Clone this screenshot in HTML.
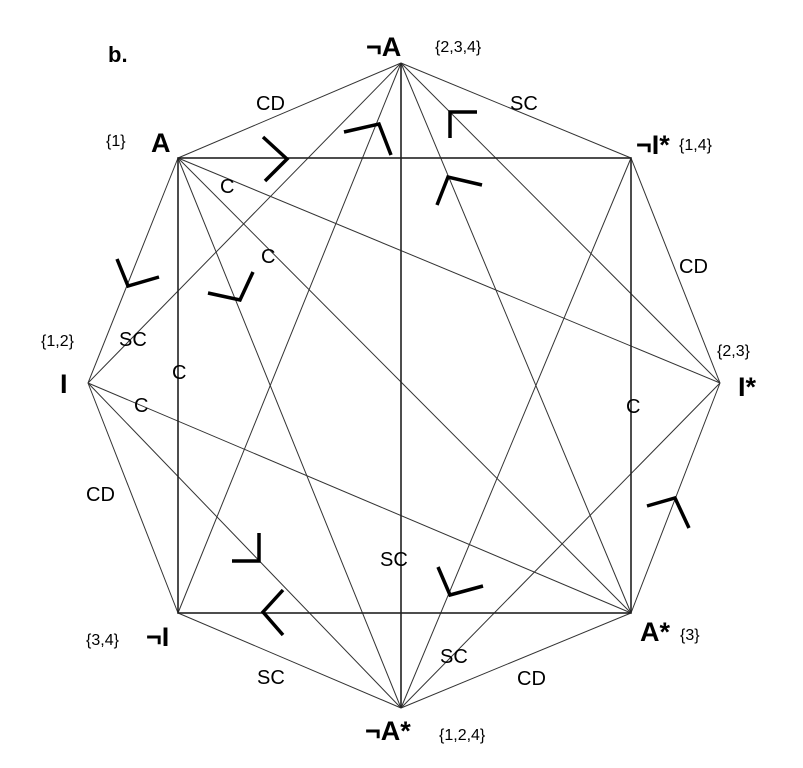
<!DOCTYPE html>
<html><head><meta charset="utf-8"><style>
body{margin:0;background:#fff;}
svg{display:block;font-family:"Liberation Sans",sans-serif;}
.n{font-weight:bold;font-size:27px;}
.s{font-size:16px;}
.l{font-size:20px;}
</style></head><body>
<svg width="803" height="768" viewBox="0 0 803 768">
<g stroke="#333" stroke-width="1" fill="none">
<line x1="401" y1="63" x2="178" y2="158"/>
<line x1="401" y1="63" x2="631" y2="158"/>
<line x1="401" y1="63" x2="88" y2="383"/>
<line x1="401" y1="63" x2="178" y2="613"/>
<line x1="401" y1="63" x2="720" y2="383"/>
<line x1="401" y1="63" x2="631" y2="613"/>
<line x1="178" y1="158" x2="88" y2="383"/>
<line x1="178" y1="158" x2="720" y2="383"/>
<line x1="178" y1="158" x2="631" y2="613"/>
<line x1="178" y1="158" x2="401" y2="708"/>
<line x1="631" y1="158" x2="720" y2="383"/>
<line x1="631" y1="158" x2="401" y2="708"/>
<line x1="88" y1="383" x2="178" y2="613"/>
<line x1="88" y1="383" x2="631" y2="613"/>
<line x1="88" y1="383" x2="401" y2="708"/>
<line x1="720" y1="383" x2="631" y2="613"/>
<line x1="720" y1="383" x2="401" y2="708"/>
<line x1="178" y1="613" x2="401" y2="708"/>
<line x1="631" y1="613" x2="401" y2="708"/>
</g>
<g stroke="#222" stroke-width="1.6" fill="none">
<line x1="401" y1="63" x2="401" y2="708"/>
<rect x="178" y="158" width="453" height="455"/>
</g>
<g stroke="#000" stroke-width="3.5" fill="none" stroke-linecap="butt">
<polyline points="263,137 287,159 265,181"/>
<polyline points="344,132 379,124 391,155"/>
<polyline points="450,138 450,112 477,112"/>
<polyline points="437,205 448,177 482,185"/>
<polyline points="208,293 240,300 253,272"/>
<polyline points="117,259 128,286 159,277"/>
<polyline points="232,561 259,561 259,533"/>
<polyline points="283,590 263,612 283,635"/>
<polyline points="438,567 450,595 483,586"/>
<polyline points="647,506 675,498 689,528"/>
</g>
<g fill="#000">
<text class="n" x="108" y="62" style="font-size:22px">b.</text>
<text class="n" x="366" y="56">¬A</text>
<text class="s" x="435" y="52">{2,3,4}</text>
<text class="n" x="151" y="152">A</text>
<text class="s" x="106" y="146">{1}</text>
<text class="n" x="636" y="154">¬I*</text>
<text class="s" x="679" y="150">{1,4}</text>
<text class="n" x="60" y="393">I</text>
<text class="s" x="41" y="346">{1,2}</text>
<text class="n" x="738" y="396">I*</text>
<text class="s" x="717" y="356">{2,3}</text>
<text class="n" x="146" y="646">¬I</text>
<text class="s" x="86" y="645">{3,4}</text>
<text class="n" x="640" y="641">A*</text>
<text class="s" x="680" y="640">{3}</text>
<text class="n" x="365" y="740">¬A*</text>
<text class="s" x="439" y="740">{1,2,4}</text>
<text class="l" x="256" y="110">CD</text>
<text class="l" x="510" y="110">SC</text>
<text class="l" x="220" y="193">C</text>
<text class="l" x="261" y="263">C</text>
<text class="l" x="679" y="273">CD</text>
<text class="l" x="119" y="346">SC</text>
<text class="l" x="172" y="379">C</text>
<text class="l" x="134" y="412">C</text>
<text class="l" x="626" y="413">C</text>
<text class="l" x="86" y="501">CD</text>
<text class="l" x="380" y="566">SC</text>
<text class="l" x="257" y="684">SC</text>
<text class="l" x="440" y="663">SC</text>
<text class="l" x="517" y="685">CD</text>
</g>
</svg>
</body></html>
